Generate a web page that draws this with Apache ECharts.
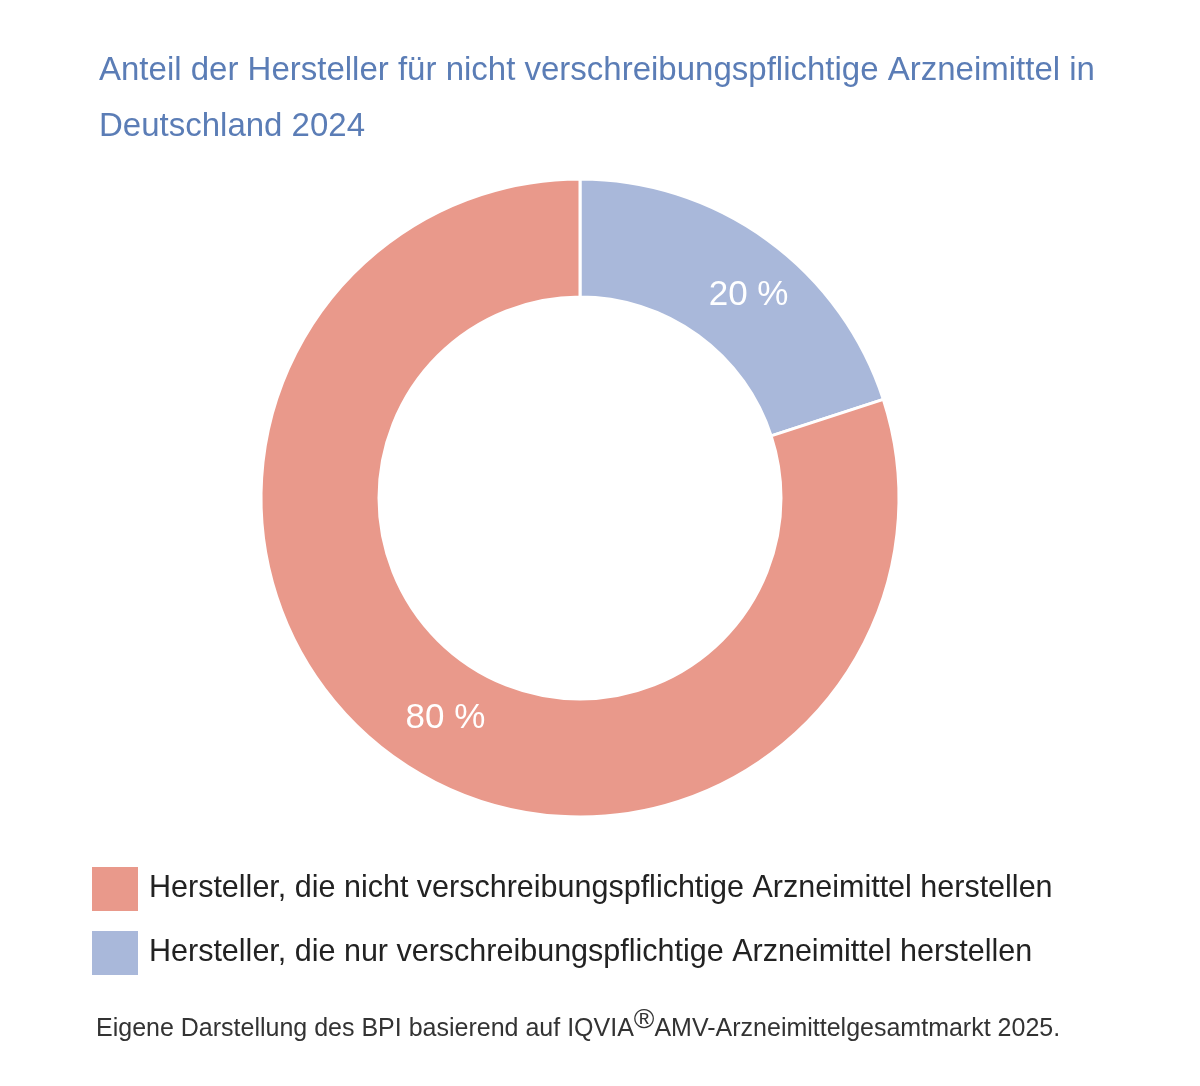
<!DOCTYPE html>
<html><head><meta charset="utf-8">
<script src="https://cdn.jsdelivr.net/npm/echarts@6/dist/echarts.min.js"></script>
<style>html,body{margin:0;padding:0;background:#fff}#c{width:1200px;height:1086px}</style>
</head><body><div id="c"></div>
<script>
const titleLines = ["Anteil der Hersteller für nicht verschreibungspflichtige Arzneimittel in", "Deutschland 2024"];
const categories = ["Hersteller, die nur verschreibungspflichtige Arzneimittel herstellen", "Hersteller, die nicht verschreibungspflichtige Arzneimittel herstellen"];
const values = [20, 80];
const colors = ["#A9B8DA", "#E9998B"];
const legendOrder = [categories[1], categories[0]];
const sourceParts = ["Eigene Darstellung des BPI basierend auf IQVIA", "®", "AMV-Arzneimittelgesamtmarkt 2025."];

const chart = echarts.init(document.getElementById('c'), null, {renderer: 'canvas'});
const font = '"Liberation Sans", Arial, sans-serif';
const labelOffsets = [[14, 10], [20, 8]];
chart.setOption({
  backgroundColor: '#fff',
  animation: false,
  textStyle: {fontFamily: font},
  title: [{
    text: titleLines.join('\n'),
    left: 99, top: 43, padding: 0,
    textStyle: {color: '#5B7DB6', fontSize: 33, fontWeight: 'normal', lineHeight: 56, fontFamily: font}
  }, {
    text: '{a|' + sourceParts[0] + '}{s|' + sourceParts[1] + '}{a|' + sourceParts[2] + '}',
    left: 96, top: 999, padding: 0,
    textStyle: {
      fontWeight: 'normal',
      rich: {
        a: {fontSize: 25, color: '#333', fontWeight: 'normal', fontFamily: font, padding: [18, 0, 0, 0]},
        s: {fontSize: 28, color: '#333', fontWeight: 'normal', fontFamily: font}
      }
    }
  }],
  legend: {
    data: legendOrder,
    orient: 'vertical',
    left: 90, top: 865, padding: 0,
    itemWidth: 48, itemHeight: 46, itemGap: 16,
    icon: 'rect',
    selectedMode: false,
    textStyle: {fontSize: 30.5, color: '#222', fontFamily: font, padding: [0, 0, 0, 5]}
  },
  series: [{
    type: 'pie',
    center: [580, 498],
    radius: [201, 319],
    startAngle: 90,
    clockwise: true,
    avoidLabelOverlap: false,
    itemStyle: {borderColor: '#fff', borderWidth: 3},
    label: {
      show: true, position: 'inside',
      formatter: p => p.value + ' %',
      color: '#fff', fontSize: 35, fontFamily: font
    },
    labelLine: {show: false},
    emphasis: {disabled: true},
    data: categories.map((n, i) => ({name: n, value: values[i], itemStyle: {color: colors[i]}, label: {offset: labelOffsets[i]}}))
  }]
});
</script></body></html>
